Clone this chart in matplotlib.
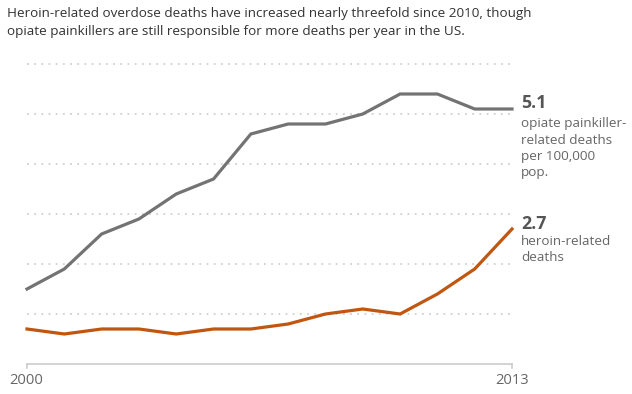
import matplotlib
matplotlib.use("Agg")
import matplotlib.pyplot as plt

years = list(range(2000, 2014))
painkiller = [1.5, 1.9, 2.6, 2.9, 3.4, 3.7, 4.6, 4.8, 4.8, 5.0, 5.4, 5.4, 5.1, 5.1]
heroin = [0.7, 0.6, 0.7, 0.7, 0.6, 0.7, 0.7, 0.8, 1.0, 1.1, 1.0, 1.4, 1.9, 2.7]
gridvals = [1, 2, 3, 4, 5, 6]
xticklabels = ["2000", "2013"]
title_lines = ["Heroin-related overdose deaths have increased nearly threefold since 2010, though",
               "opiate painkillers are still responsible for more deaths per year in the US."]
pain_lines = ["opiate painkiller-", "related deaths", "per 100,000", "pop."]
heroin_lines = ["heroin-related", "deaths"]

W, H = 632, 394
plt.rcParams['font.family'] = ['Open Sans', 'DejaVu Sans']
fig = plt.figure(figsize=(W / 100, H / 100), dpi=100)

def fx(px):
    return px / W

def fy(py):
    return 1 - py / H

x0, x1, y0, y6 = 27, 512, 364, 64
ax = fig.add_axes([fx(x0), fy(y0), fx(x1) - fx(x0), fy(y6) - fy(y0)])
ax.set_xlim(2000, 2013)
ax.set_ylim(0, 6)
ax.axis('off')

for g in gridvals:
    ax.plot([2000, 2013], [g, g], color='#c8c8c8', lw=1.1, ls=(0, (1.2, 3.5)), clip_on=False, zorder=1)
ax.plot([2000, 2013], [0, 0], color='#cccccc', lw=1.2, clip_on=False, zorder=1)
for t in [2000, 2013]:
    ax.plot([t, t], [0, -0.08], color='#cccccc', lw=1.2, clip_on=False)

gray = '#737373'
orange = '#c0560f'
ax.plot(years, painkiller, color=gray, lw=2.3, clip_on=False, zorder=3, solid_joinstyle='miter')
ax.plot(years, heroin, color=orange, lw=2.3, clip_on=False, zorder=3, solid_joinstyle='miter')

fig.text(fx(26), fy(384), xticklabels[0], ha='center', va='baseline', fontsize=10.6, color='#666666')
fig.text(fx(512), fy(384), xticklabels[1], ha='center', va='baseline', fontsize=10.6, color='#666666')

for i, line in enumerate(title_lines):
    fig.text(fx(7), fy(17.5 + 18 * i), line, ha='left', va='baseline', fontsize=9.7, color='#333333')

fig.text(fx(521), fy(108.5), f"{painkiller[-1]:.1f}", ha='left', va='baseline', fontsize=12.8,
         fontweight='bold', color='#555555')
for i, line in enumerate(pain_lines):
    fig.text(fx(521), fy(127.5 + 16.3 * i), line, ha='left', va='baseline', fontsize=9.7, color='#666666')
fig.text(fx(521), fy(229), f"{heroin[-1]:.1f}", ha='left', va='baseline', fontsize=12.8,
         fontweight='bold', color='#555555')
for i, line in enumerate(heroin_lines):
    fig.text(fx(521), fy(245 + 16 * i), line, ha='left', va='baseline', fontsize=9.7, color='#666666')

fig.savefig("out.png", dpi=100, facecolor='white')
